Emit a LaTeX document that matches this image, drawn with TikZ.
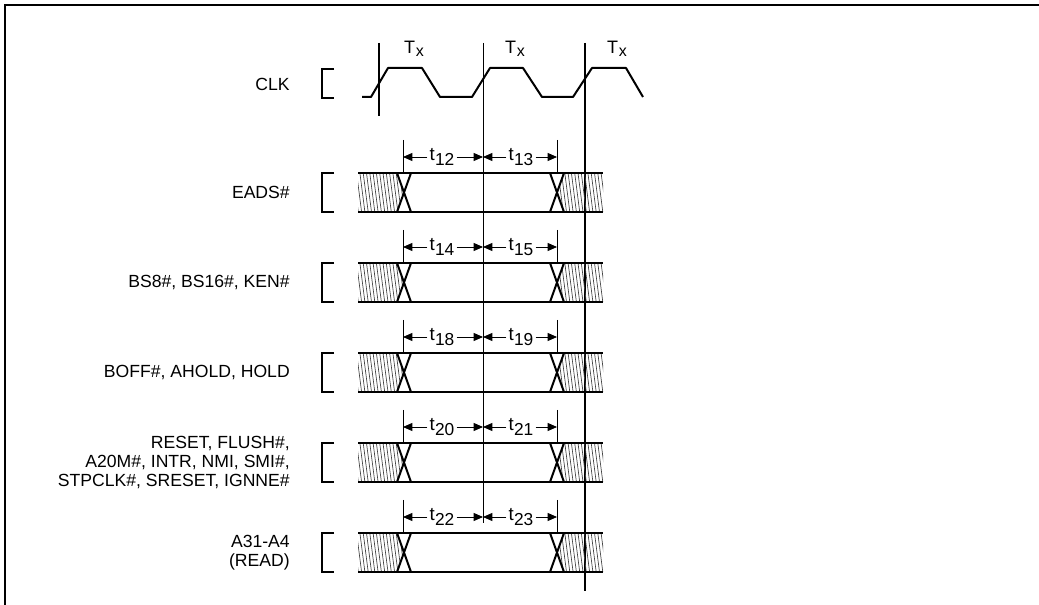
\documentclass[tikz,border=0pt]{standalone}
\usepackage{fontspec}
\setmainfont{Liberation Sans}
\usetikzlibrary{arrows.meta}
\newcommand\tlab[1]{{\fontsize{14pt}{14pt}\selectfont t}\kern0.2pt\raisebox{-3.2pt}{\fontsize{13pt}{13pt}\selectfont #1}}
\newcommand\Tx{{\fontsize{13.5pt}{13.5pt}\selectfont T}\kern0.4pt\raisebox{-2.5pt}{\fontsize{12pt}{12pt}\selectfont x}}
\begin{document}
\begin{tikzpicture}[x=0.75pt,y=-0.75pt,
  font=\fontsize{13.2pt}{14.3pt}\selectfont,
  frame/.style={line width=1.6pt},
  thickl/.style={line width=1.5pt},
  thinl/.style={line width=0.6pt},
  hatch/.style={line width=0.5pt, black!75},
  dim/.style={line width=0.6pt, -{Triangle[length=7pt,width=6pt]}},
  lbl/.style={anchor=east, align=right, inner sep=0pt},
  tlbl/.style={inner sep=1.5pt},
]
\useasboundingbox (0,0) rectangle (1039,605);
\draw[frame] (5,605) -- (5,5) -- (1039,5);

% CLK row
\node[lbl] (clk) at (290,84) {CLK};
\draw[thickl] (334,69) -- (322,69) -- (322,98) -- (334,98);
\draw[thickl, line join=round] (362,97) -- (371,97) -- (388,68) -- (422,68) -- (440,97) -- (472,97) -- (490,68) -- (523,68) -- (542,97) -- (573,97) -- (592,68) -- (626,68) -- (643,97);

% vertical reference lines
\draw[thickl] (379,43) -- (379,116);
\draw[thinl] (483,43) -- (483,523);
\draw[thickl] (585,43) -- (585,591);
\node (tx1) at (414,49) {\Tx};
\node (tx2) at (515,49) {\Tx};
\node (tx3) at (617,49) {\Tx};

\foreach \k/\la/\lb/\lab in {0/12/13/{EADS\#},
  1/14/15/{BS8\#, BS16\#, KEN\#},
  2/18/19/{BOFF\#, AHOLD, HOLD},
  3/20/21/{RESET, FLUSH\#,\\A20M\#, INTR, NMI, SMI\#,\\STPCLK\#, SRESET, IGNNE\#},
  4/22/23/{A31-A4\\(READ)}}{
  \pgfmathsetmacro\yt{173+90*\k}
  \pgfmathsetmacro\yb{\yt+39}
  \pgfmathsetmacro\ym{\yt+19.5}
  \pgfmathsetmacro\ya{\yt-16}
  % label and bracket
  \node[lbl] (sig\k) at (290,\ym) {\lab};
  \draw[thickl] (334,\yt) -- (322,\yt) -- (322,\yb) -- (334,\yb);
  % hatching
  \begin{scope}
    \clip (358,\yt) -- (397,\yt) -- (404,\ym) -- (397,\yb) -- (358,\yb) -- cycle;
    \foreach \x in {350,353.3,...,412} \draw[hatch] (\x,\yt) -- (\x+5,\yb);
  \end{scope}
  \begin{scope}
    \clip (564,\yt) -- (603,\yt) -- (603,\yb) -- (564,\yb) -- (557,\ym) -- cycle;
    \foreach \x in {545,548.3,...,608} \draw[hatch] (\x,\yt) -- (\x+5,\yb);
  \end{scope}
  % bus outline
  \draw[thickl] (358,\yt) -- (603,\yt);
  \draw[thickl] (358,\yb) -- (603,\yb);
  \draw[thickl] (397,\yt) -- (411,\yb) (411,\yt) -- (397,\yb);
  \draw[thickl] (550,\yt) -- (564,\yb) (564,\yt) -- (550,\yb);
  % extension lines
  \coordinate (el\k) at (403,\ya);
  \coordinate (em\k) at (483,\ya);
  \coordinate (er\k) at (557,\ya);
  \draw[thinl] (403,\yt-33) -- (403,\yt);
  \draw[thinl] (557,\yt-33) -- (557,\yt);
  % dimension labels
  \node[tlbl] (ta\k) at (442,\ya) {\tlab{\la}};
  \node[tlbl] (tb\k) at (521,\ya) {\tlab{\lb}};
  \draw[dim] (ta\k.west) -- (el\k);
  \draw[dim] (ta\k.east) -- (em\k);
  \draw[dim] (tb\k.west) -- (em\k);
  \draw[dim] (tb\k.east) -- (er\k);
}
\end{tikzpicture}
\end{document}
